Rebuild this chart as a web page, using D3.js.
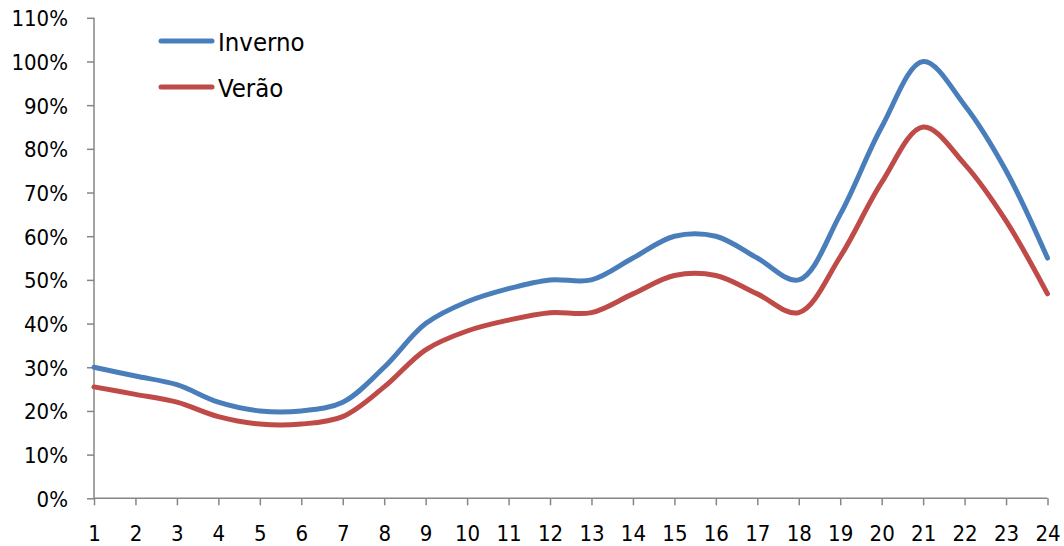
<!DOCTYPE html>
<html>
<head>
<meta charset="utf-8">
<script src="https://cdn.jsdelivr.net/npm/d3@7"></script>
<style>
  html, body { margin: 0; padding: 0; background: #fff; }
  svg { display: block; }
  text { font-family: "DejaVu Sans Condensed", "DejaVu Sans", sans-serif; font-stretch: condensed; fill: #000; }
</style>
</head>
<body>
<svg id="chart" width="1064" height="546"></svg>
<script>
const hours = [1,2,3,4,5,6,7,8,9,10,11,12,13,14,15,16,17,18,19,20,21,22,23,24];
const inverno = [30,28,26,22,20,20,22,30,40,45,48,50,50,55,60,60,55,50,65,85,100,90,75,55];
const verao = [25.5,23.8,22,18.7,17,17,18.7,25.5,34,38.3,40.8,42.5,42.5,46.8,51,51,46.8,42.5,55.3,72.3,85,76.5,63.5,46.8];
const yTicks = [0,10,20,30,40,50,60,70,80,90,100,110];
const seriesNames = ["Inverno", "Verão"];
const seriesColors = ["#4A7EBB", "#BE4B48"];

const svg = d3.select("#chart");
const x = d3.scaleLinear().domain([1, 24]).range([94, 1047.5]);
const y = d3.scaleLinear().domain([0, 110]).range([498.3, 17.8]);

const axisColor = "#868686";
const fontFam = '"DejaVu Sans Condensed", "DejaVu Sans", sans-serif';

// Y axis
const yAxis = svg.append("g")
  .attr("transform", `translate(${x.range()[0]},0)`)
  .call(d3.axisLeft(y).tickValues(yTicks).tickFormat(d => d + "%").tickSize(7).tickPadding(20));
// X axis
const xAxis = svg.append("g")
  .attr("transform", `translate(0,${y(0)})`)
  .call(d3.axisBottom(x).tickValues(hours).tickFormat(d3.format("d")).tickSize(7).tickPadding(21));

[yAxis, xAxis].forEach(g => {
  g.attr("font-family", fontFam).attr("font-size", 22);
  g.select(".domain").attr("stroke", axisColor).attr("stroke-width", 1.5);
  g.selectAll(".tick line").attr("stroke", axisColor).attr("stroke-width", 1.5);
  g.selectAll(".tick text").attr("font-size", 22).attr("fill", "#000");
});
yAxis.selectAll(".tick text").attr("x", -26).attr("dy", "0.36em");
xAxis.selectAll(".tick text").attr("y", 43).attr("dy", 0);
yAxis.select(".domain").attr("d", `M0,${y(110)}V${y(0)}`);
xAxis.select(".domain").attr("d", `M${x(1)},0H${x(24)}`);

const line = d3.line()
  .x((d, i) => x(hours[i]))
  .y(d => y(d))
  .curve(d3.curveCatmullRom.alpha(0.5));

const allSeries = [inverno, verao];
allSeries.forEach((s, k) => {
  svg.append("path")
    .datum(s)
    .attr("d", line)
    .attr("fill", "none")
    .attr("stroke", seriesColors[k])
    .attr("stroke-width", 5)
    .attr("stroke-linecap", "round")
    .attr("stroke-linejoin", "round");
});

// Legend
const legend = svg.append("g");
const legendY = [41, 87];
seriesNames.forEach((name, k) => {
  legend.append("line")
    .attr("x1", 161).attr("x2", 212)
    .attr("y1", legendY[k]).attr("y2", legendY[k])
    .attr("stroke", seriesColors[k]).attr("stroke-width", 5)
    .attr("stroke-linecap", "round");
  legend.append("text")
    .attr("x", 218).attr("y", legendY[k] + 9.5)
    .attr("font-size", 25.5)
    .text(name);
});
</script>
</body>
</html>
